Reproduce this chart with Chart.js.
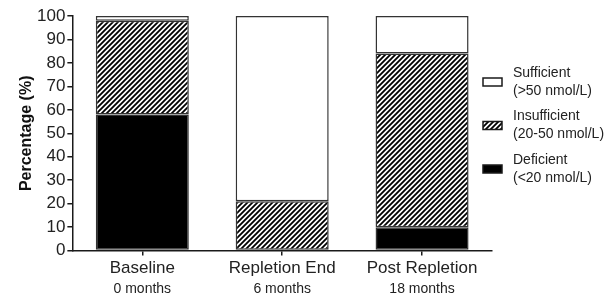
<!DOCTYPE html>
<html><head><meta charset="utf-8">
<script src="https://cdn.jsdelivr.net/npm/chart.js@4"></script>
<style>html,body{margin:0;padding:0;background:#fff}#wrap{width:607px;height:296px;position:relative}</style>
</head><body><div id="wrap"><canvas id="c" width="607" height="296"></canvas></div>
<script>
const categories = ['Baseline', 'Repletion End', 'Post Repletion'];
const subLabels = ['0 months', '6 months', '18 months'];
const deficient = [58, 0, 10];
const insufficient = [40, 21, 74];
const sufficient = [2, 79, 16];
const seriesNames = ['Deficient', 'Insufficient', 'Sufficient'];
const seriesRanges = ['(<20 nmol/L)', '(20-50 nmol/L)', '(>50 nmol/L)'];
const yTitle = 'Percentage (%)';

const FONT = "'Liberation Sans', Arial, Helvetica, sans-serif";
const INK = '#1a1a1a';

function makeHatch() {
  const s = 5;
  const cv = document.createElement('canvas');
  cv.width = s; cv.height = s;
  const g = cv.getContext('2d');
  g.fillStyle = '#fff'; g.fillRect(0, 0, s, s);
  g.strokeStyle = '#000'; g.lineWidth = 1.8;
  g.beginPath();
  g.moveTo(-1, s + 1); g.lineTo(s + 1, -1);
  g.moveTo(-1, 1); g.lineTo(1, -1);
  g.moveTo(s - 1, s + 1); g.lineTo(s + 1, s - 1);
  g.stroke();
  return document.getElementById('c').getContext('2d').createPattern(cv, 'repeat');
}
const hatch = makeHatch();
const fills = ['#000', hatch, '#fff'];

const sideLegend = {
  id: 'sideLegend',
  afterDraw(chart) {
    const ctx = chart.ctx;
    const ca = chart.chartArea;
    const boxX = ca.right - 9, textX = ca.right + 21;
    const order = [2, 1, 0];
    ctx.save();
    order.forEach((k, i) => {
      const y1 = 73 + i * 43.5;
      const y2 = y1 + 18;
      const by = y1 + 9;
      ctx.fillStyle = fills[k];
      ctx.fillRect(boxX, by - 4, 19, 8);
      ctx.strokeStyle = INK; ctx.lineWidth = 1.5;
      ctx.strokeRect(boxX, by - 4, 19, 8);
      ctx.fillStyle = '#222';
      ctx.font = '14px ' + FONT;
      ctx.textBaseline = 'middle';
      ctx.textAlign = 'left';
      ctx.fillText(seriesNames[k], textX, y1);
      ctx.fillText(seriesRanges[k], textX, y2);
    });
    ctx.restore();
  }
};

const values = [deficient, insufficient, sufficient];
new Chart(document.getElementById('c'), {
  type: 'bar',
  data: {
    labels: categories,
    datasets: values.map((v, k) => ({
      label: seriesNames[k],
      data: v,
      backgroundColor: fills[k],
      borderColor: '#333',
      borderWidth: 1.5,
      borderSkipped: false,
      categoryPercentage: 1,
      barPercentage: 0.665
    }))
  },
  options: {
    responsive: false,
    devicePixelRatio: 1,
    animation: false,
    layout: { padding: { left: 19, right: 115, top: 16, bottom: 0 } },
    plugins: { legend: { display: false }, tooltip: { enabled: false } },
    scales: {
      x: {
        stacked: true,
        offset: true,
        grid: { display: true, drawOnChartArea: false, offset: false, tickLength: 5, color: INK, lineWidth: 1.5 },
        border: { color: INK, width: 1.5 },
        ticks: { color: '#222', font: { family: FONT, size: 17 }, padding: 3 }
      },
      x2: {
        type: 'category',
        labels: subLabels,
        position: 'bottom',
        offset: true,
        grid: { display: false, drawTicks: false },
        border: { display: false },
        ticks: { color: '#222', font: { family: FONT, size: 14, lineHeight: 1 }, padding: 0 }
      },
      y: {
        stacked: true,
        min: 0, max: 100,
        grid: { display: true, drawOnChartArea: false, tickLength: 5, color: INK, lineWidth: 1.5 },
        border: { color: INK, width: 1.5 },
        ticks: { stepSize: 10, color: '#222', font: { family: FONT, size: 17 }, padding: 2 },
        title: { display: true, text: yTitle, color: '#111', font: { family: FONT, size: 16, weight: 'bold', lineHeight: 1 }, padding: { top: 0, bottom: 0 } }
      }
    }
  },
  plugins: [sideLegend]
});
</script></body></html>
